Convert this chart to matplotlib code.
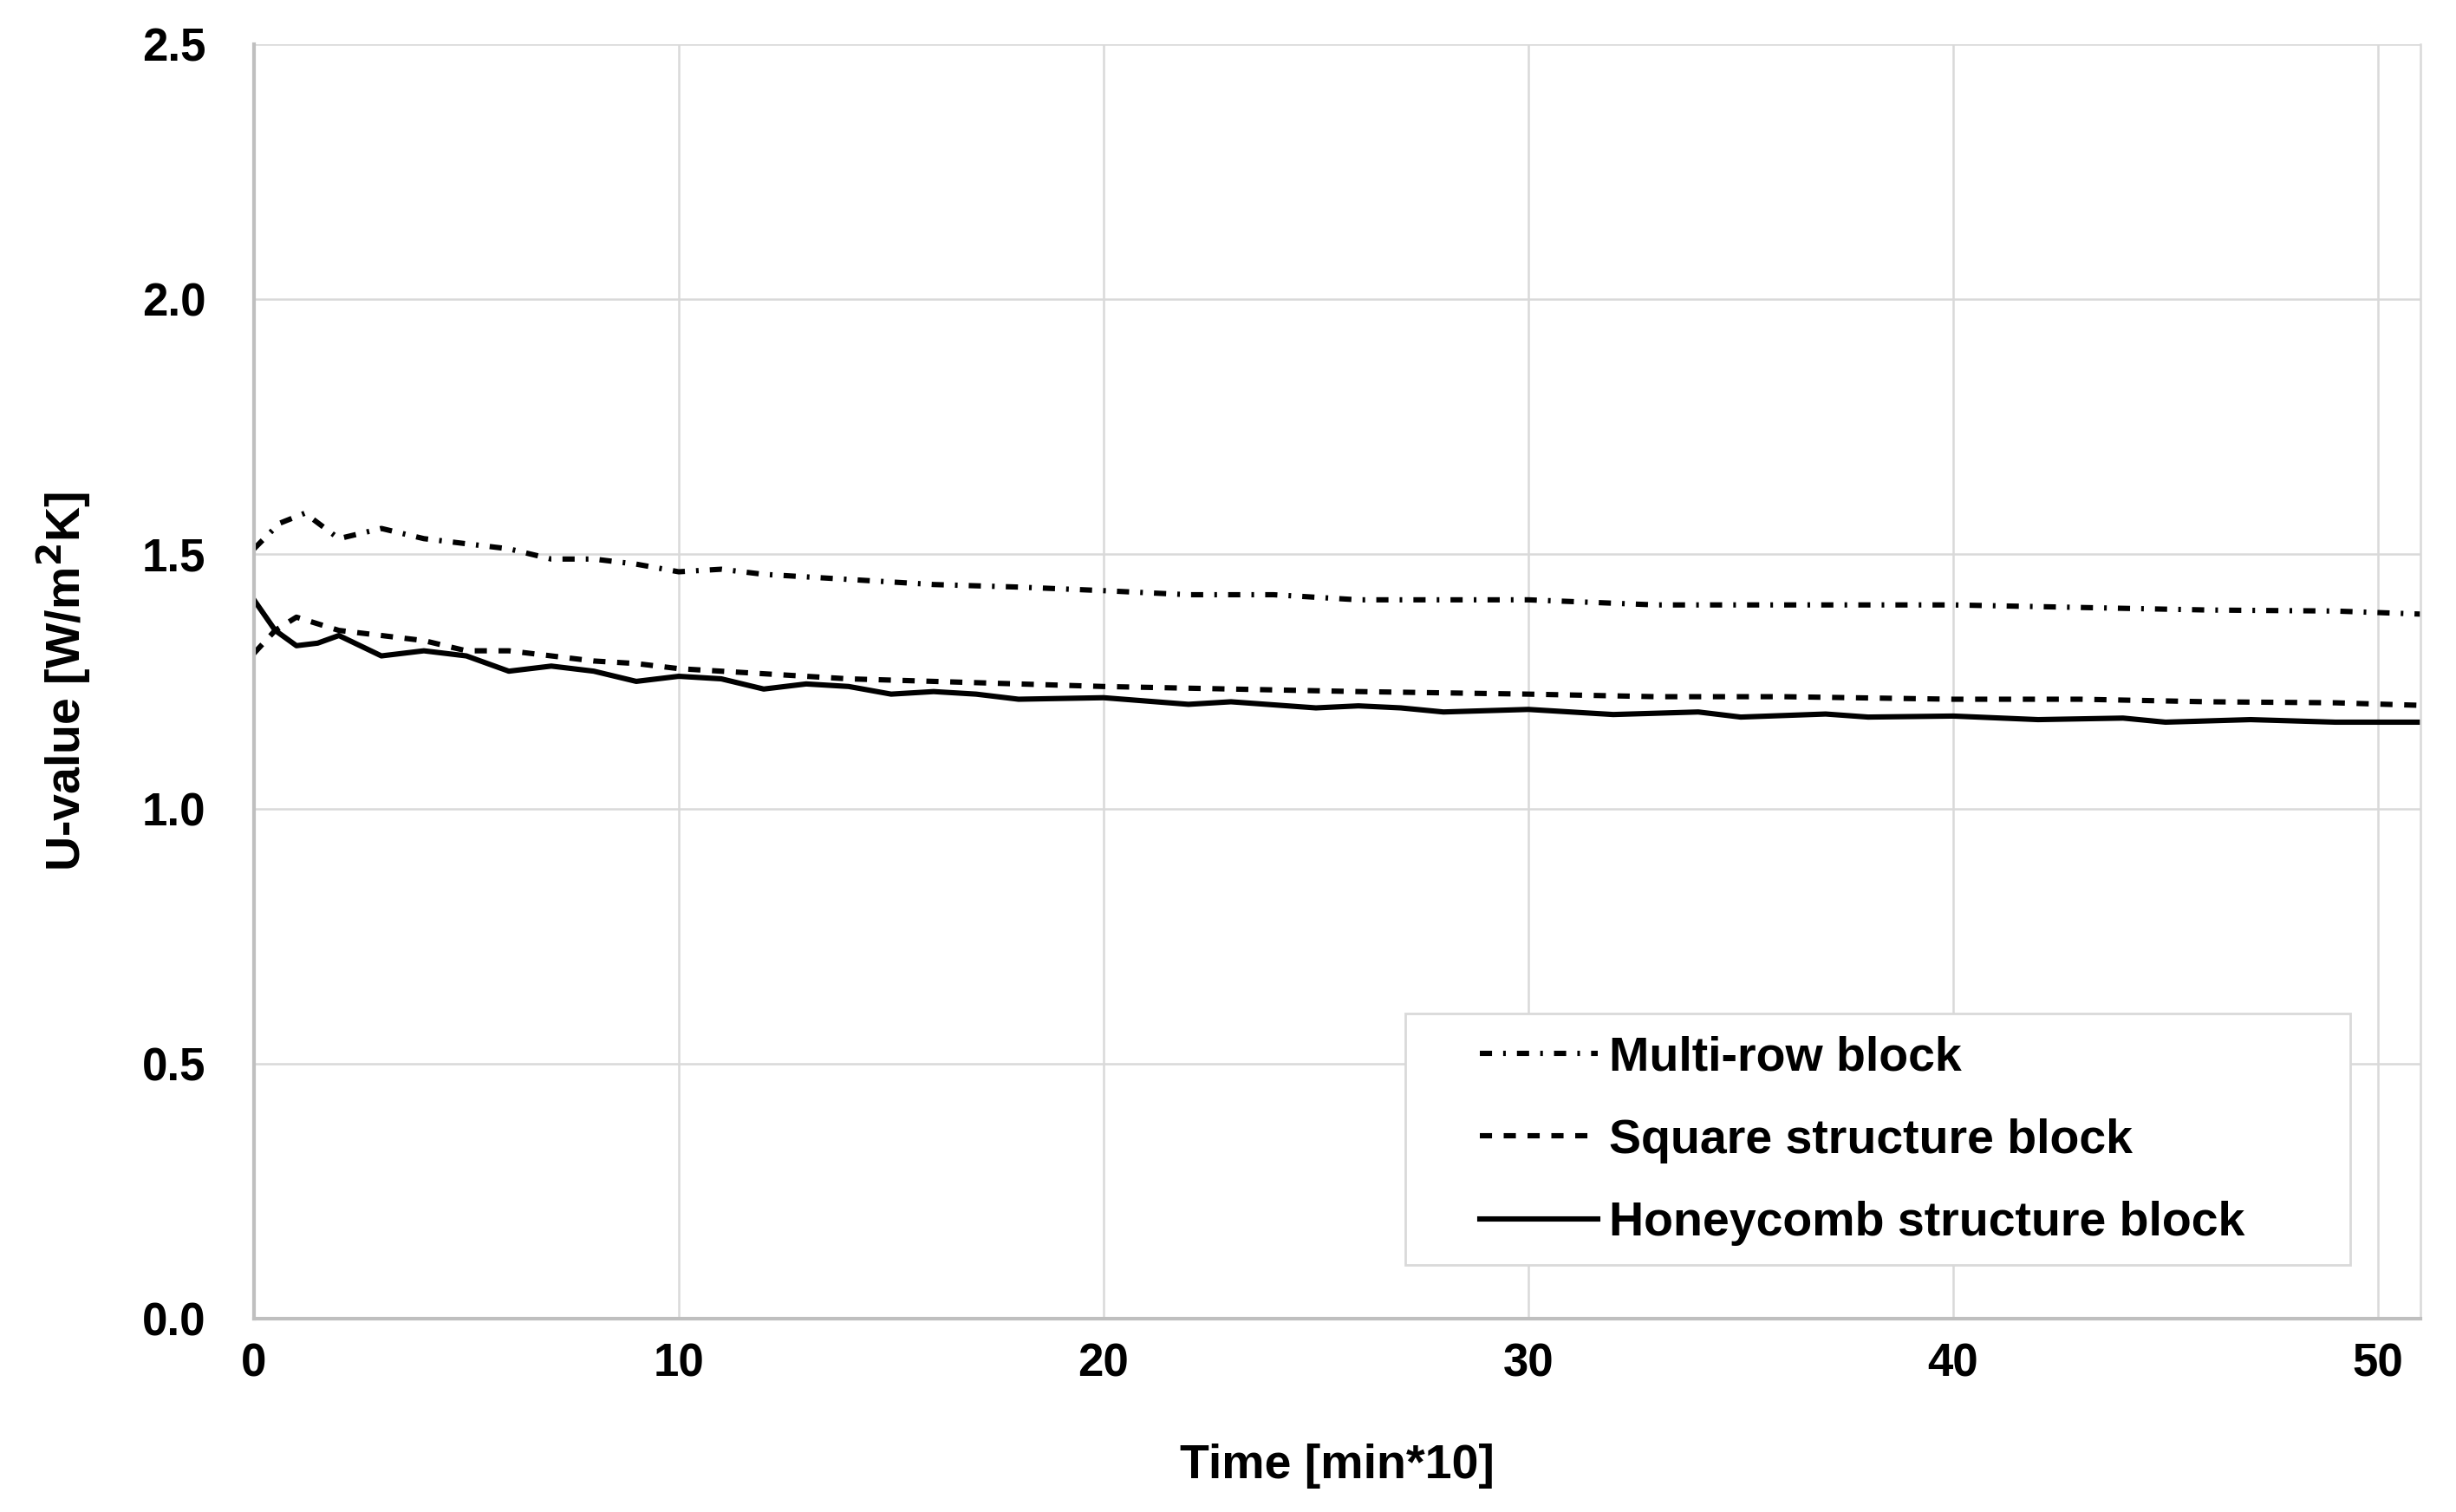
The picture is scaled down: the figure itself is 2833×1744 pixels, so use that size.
import matplotlib.pyplot as plt
from matplotlib.patches import Rectangle

# Multi-row block
t_multi = [0, 0.6, 1.2, 2, 3, 4, 5, 6, 7, 8, 9, 10, 11, 12, 14, 16, 18, 20, 22, 24, 26,
           28, 30, 33, 36, 40, 43, 46, 49, 51]
u_multi = [1.51, 1.56, 1.58, 1.53, 1.55, 1.53, 1.52, 1.51, 1.49, 1.49, 1.48, 1.465, 1.47, 1.46,
           1.45, 1.44, 1.435, 1.428, 1.42, 1.42, 1.41, 1.41, 1.41, 1.40, 1.40, 1.40, 1.395,
           1.39, 1.388, 1.382]

# Square structure block
t_square = [0, 0.5, 1, 2, 3, 4, 5, 6, 7, 8, 9, 10, 12, 14, 16, 18, 20, 23, 26, 30, 33, 36,
            40, 43, 46, 49, 51]
u_square = [1.305, 1.35, 1.376, 1.35, 1.34, 1.33, 1.31, 1.31, 1.30, 1.29, 1.285, 1.275, 1.265,
            1.255, 1.25, 1.245, 1.24, 1.235, 1.23, 1.225, 1.22, 1.22, 1.215, 1.215, 1.21,
            1.208, 1.203]

# Honeycomb structure block
t_honey = [0, 0.5, 1, 1.5, 2, 2.5, 3, 4, 5, 6, 7, 8, 9, 10, 11, 12, 13, 14, 15, 16, 17, 18,
           20, 22, 23, 25, 26, 27, 28, 30, 32, 34, 35, 37, 38, 40, 42, 44, 45, 47, 49, 51]
u_honey = [1.41, 1.35, 1.32, 1.325, 1.34, 1.32, 1.30, 1.31, 1.30, 1.27, 1.28, 1.27, 1.25,
           1.26, 1.255, 1.235, 1.245, 1.24, 1.225, 1.23, 1.225, 1.215, 1.218, 1.205, 1.21,
           1.198, 1.202, 1.198, 1.19, 1.195, 1.185, 1.19, 1.18, 1.186, 1.18, 1.182, 1.175,
           1.178, 1.17, 1.175, 1.17, 1.17]

xticks = [0, 10, 20, 30, 40, 50]
yticks = [0.0, 0.5, 1.0, 1.5, 2.0, 2.5]

plt.rcParams['font.family'] = ['Liberation Sans', 'DejaVu Sans']
plt.rcParams['font.weight'] = 'bold'

fig = plt.figure(figsize=(28.33, 17.44), dpi=100)
ax = fig.add_axes([0.1034, 0.1279, 0.8821, 0.8429])

lw = 4.4
ax.plot(t_multi, u_multi, color='black', lw=lw, linestyle=(0, (2.3, 2.1, 0.5, 2.1)),
        label='Multi-row block')
ax.plot(t_square, u_square, color='black', lw=lw, linestyle=(0, (2.3, 2.2)),
        label='Square structure block')
ax.plot(t_honey, u_honey, color='black', lw=lw, linestyle='-',
        label='Honeycomb structure block')

ax.set_xlim(0, 51)
ax.set_ylim(0, 2.5)
ax.set_xticks(xticks)
ax.set_yticks(yticks)
ax.set_yticklabels([f'{v:.1f}' for v in yticks])
ax.tick_params(length=0, labelsize=38)
ax.tick_params(axis='y', pad=40)
ax.tick_params(axis='x', pad=20)
ax.grid(True, color='#d9d9d9', lw=1.8)
ax.set_axisbelow(True)

ax.spines['top'].set_visible(False)
ax.spines['right'].set_color('#d9d9d9')
ax.spines['right'].set_linewidth(1.8)
for side in ['left', 'bottom']:
    ax.spines[side].set_color('#bfbfbf')
    ax.spines[side].set_linewidth(3)

ax.set_xlabel('Time [min*10]', fontsize=40, fontweight='bold', labelpad=48)
ax.set_ylabel('U-value [W/m$^2$K]', fontsize=40, fontweight='bold', labelpad=40)

# legend frame drawn separately, Excel style
ax.add_patch(Rectangle((0.5315, 0.0418), 0.436, 0.1978, transform=ax.transAxes,
                       facecolor='white', edgecolor='#d9d9d9', lw=2, zorder=4))
leg = ax.legend(loc='upper left', bbox_to_anchor=(0.566, 0.222), fontsize=40,
                frameon=False, handlelength=2.45, handletextpad=0.22,
                labelspacing=0.78, borderpad=0, borderaxespad=0)
leg.set_zorder(5)

fig.savefig('out.png', dpi=100, facecolor='white')
